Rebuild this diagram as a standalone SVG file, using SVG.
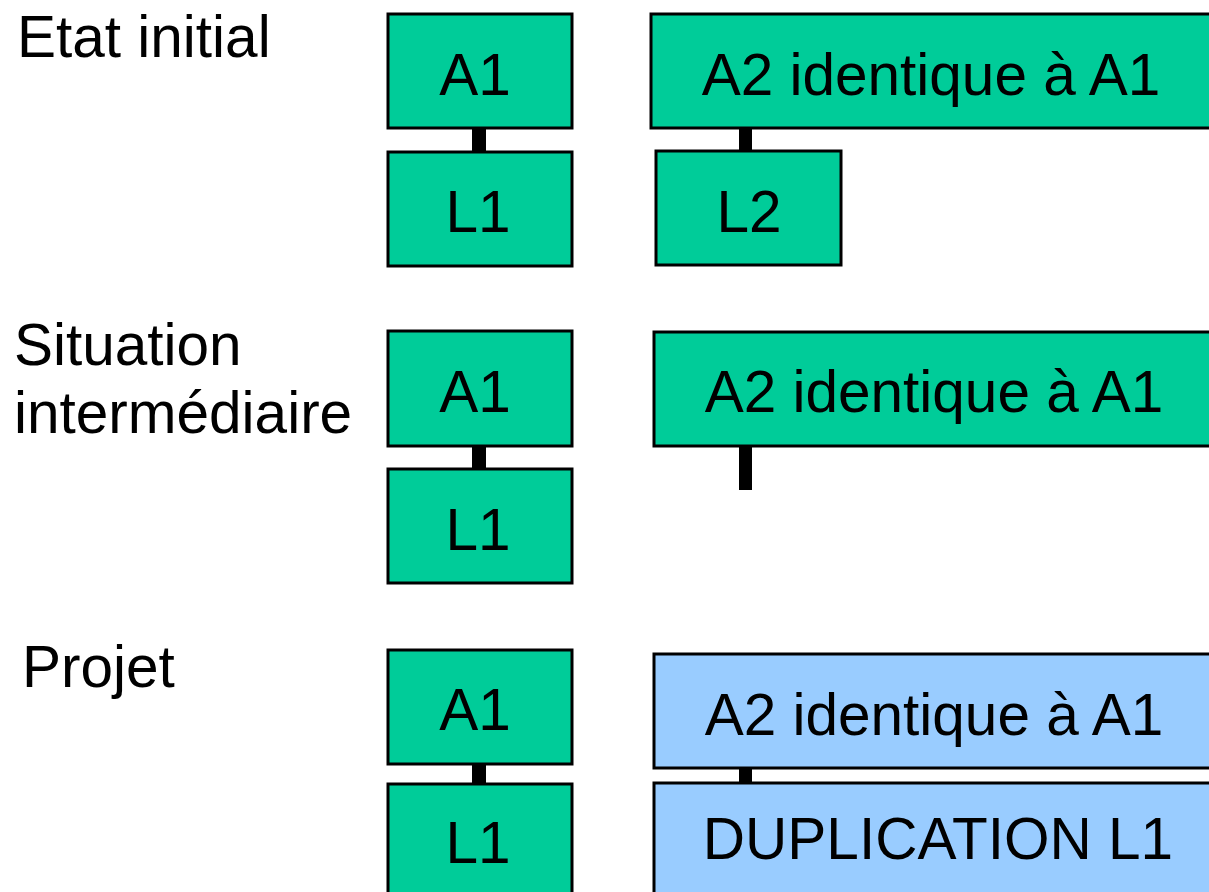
<svg xmlns="http://www.w3.org/2000/svg" width="1209" height="892" viewBox="0 0 1209 892">
<style>
.g{fill:#00CC99;stroke:#000;stroke-width:3}
.b{fill:#99CCFF;stroke:#000;stroke-width:3}
.t{font-family:"Liberation Sans",Arial,sans-serif;font-size:58.5px;fill:#000}
.m{text-anchor:middle}
.c{fill:#000}
</style>
<rect width="1209" height="892" fill="#fff"/>
<g id="labels">
<text class="t" x="17" y="57">Etat initial</text>
<text class="t" x="14" y="365">Situation</text>
<text class="t" x="14" y="433">intermédiaire</text>
<text class="t" x="22" y="687">Projet</text>
</g>
<g id="connectors">
<rect class="c" x="472" y="128" width="14" height="24"/>
<rect class="c" x="739" y="128" width="13" height="23"/>
<rect class="c" x="472" y="446" width="14" height="23"/>
<rect class="c" x="739" y="446" width="13" height="44"/>
<rect class="c" x="472" y="764" width="14" height="20"/>
<rect class="c" x="739" y="768" width="13" height="15"/>
</g>
<g id="r1-a1"><rect class="g" x="388" y="14" width="184" height="114"/><text class="t m" x="475" y="95">A1</text></g>
<g id="r1-l1"><rect class="g" x="388" y="152" width="184" height="114"/><text class="t m" x="478" y="232">L1</text></g>
<g id="r1-a2"><rect class="g" x="651" y="14" width="562" height="114"/><text class="t m" x="931" y="95">A2 identique à A1</text></g>
<g id="r1-l2"><rect class="g" x="656" y="151" width="185" height="114"/><text class="t m" x="749" y="232">L2</text></g>
<g id="r2-a1"><rect class="g" x="388" y="331" width="184" height="115"/><text class="t m" x="475" y="412">A1</text></g>
<g id="r2-l1"><rect class="g" x="388" y="469" width="184" height="114"/><text class="t m" x="478" y="550">L1</text></g>
<g id="r2-a2"><rect class="g" x="654" y="332" width="559" height="114"/><text class="t m" x="934" y="412">A2 identique à A1</text></g>
<g id="r3-a1"><rect class="g" x="388" y="650" width="184" height="114"/><text class="t m" x="475" y="730">A1</text></g>
<g id="r3-l1"><rect class="g" x="388" y="784" width="184" height="114"/><text class="t m" x="478" y="863">L1</text></g>
<g id="r3-a2"><rect class="b" x="654" y="654" width="559" height="114"/><text class="t m" x="934" y="735">A2 identique à A1</text></g>
<g id="r3-dup"><rect class="b" x="654" y="783" width="559" height="114"/><text class="t m" x="938" y="859">DUPLICATION L1</text></g>
</svg>
